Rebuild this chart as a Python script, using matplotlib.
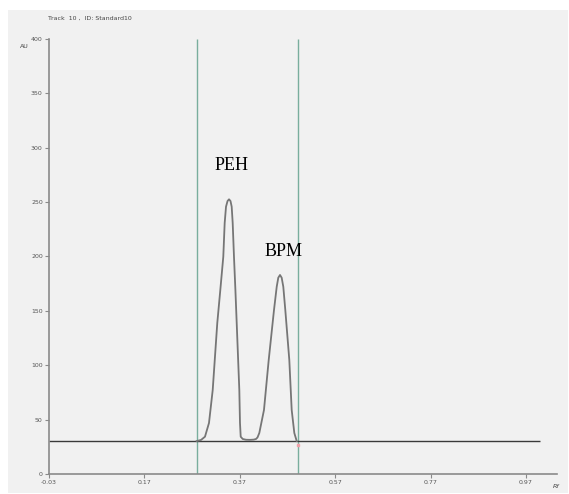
"""Densitogram of track 10 (Standard10) with PEH and BPM peaks"""

import matplotlib.pyplot as plt
from matplotlib.patches import Rectangle

# curve, Rf vs AU
rf = [0.2796, 0.2887, 0.2970, 0.3054, 0.3132, 0.3228, 0.3291, 0.3354,
      0.3383, 0.3411, 0.3443, 0.3474, 0.3505, 0.3530, 0.3551, 0.3578,
      0.3608, 0.3635, 0.3690, 0.3704, 0.3719, 0.3761, 0.3830, 0.3914,
      0.3990, 0.4040, 0.4071, 0.4109, 0.4207, 0.4306, 0.4417, 0.4474,
      0.4507, 0.4543, 0.4578, 0.4612, 0.4654, 0.4738, 0.4788, 0.4843,
      0.4893]
au = [30.3, 31.3, 34.3, 46.9, 77.2, 138.9, 169.0, 199.8,
      230.8, 245.8, 251.0, 252.6, 251.0, 245.8, 230.8, 199.8,
      169.0, 138.9, 77.2, 46.9, 34.3, 32.2, 31.5, 31.4,
      31.6, 32.2, 33.6, 37.7, 58.9, 104.8, 150.8, 172.2,
      180.5, 183.0, 180.5, 172.2, 150.8, 104.8, 58.9, 37.7,
      30.3]

baseline = 30
window = [0.28, 0.491]
peaks = [('PEH', 0.3516, 279.5), ('BPM', 0.4616, 200.7)]

xticks = [-0.03, 0.17, 0.37, 0.57, 0.77, 0.97]
yticks = [0, 50, 100, 150, 200, 250, 300, 350, 400]

W, H = 569, 494


def main():
    fig = plt.figure(figsize=(W / 100, H / 100), dpi=100)
    fig.patch.set_facecolor('white')
    fig.patches.append(Rectangle((8 / W, 1 / H), 560 / W, 483 / H,
                                 transform=fig.transFigure,
                                 facecolor='#f1f1f1', edgecolor='none',
                                 zorder=-10))

    ax = fig.add_axes([49 / W, 20 / H, 508 / W, 435 / H])
    ax.set_facecolor('none')
    ax.set_xlim(-0.03, 1.035)
    ax.set_ylim(0, 400)

    ax.hlines(baseline, -0.03, 1.0, color='#3a3a3a', lw=1.0, zorder=2)
    ax.vlines(window, 0, 400, color='#79ae9d', lw=1.0, zorder=1)
    ax.plot(rf, au, color='#767676', lw=1.3, zorder=3,
            solid_joinstyle='round')
    ax.plot(window[1], baseline - 3, marker='s', ms=1.5, color='#f0a0a8',
            zorder=1)

    for name, x, y in peaks:
        ax.text(x, y, name, ha='center', va='baseline',
                family='Liberation Serif', fontsize=13, color='black')

    for s in ['top', 'right']:
        ax.spines[s].set_visible(False)
    for s in ['left', 'bottom']:
        ax.spines[s].set_color('#8a8a8a')
        ax.spines[s].set_linewidth(1.2)

    ax.set_xticks(xticks)
    ax.set_xticklabels(['%.2f' % t for t in xticks])
    ax.set_yticks(yticks)
    ax.set_yticklabels([str(t) for t in yticks])
    ax.tick_params(axis='both', labelsize=4.5, labelcolor='#555555',
                   color='#8a8a8a', length=3, width=0.8, pad=1.5)

    fig.text(48 / W, 1 - 18 / H, 'Track  10 ,  ID: Standard10',
             fontsize=4.5, color='#444444', va='center')
    fig.text(20 / W, 1 - 47 / H, 'AU', fontsize=4.5, color='#444444',
             va='center')
    fig.text(553 / W, 1 - 486 / H, 'Rf', fontsize=4.5, color='#444444',
             va='center', style='italic')

    fig.savefig('out.png', dpi=100)


if __name__ == "__main__":
    main()
